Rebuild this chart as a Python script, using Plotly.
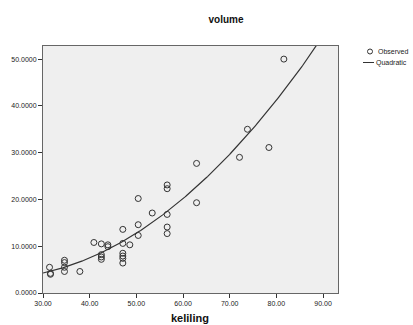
import numpy as np
import plotly.graph_objects as go

keliling = [31.4, 31.6, 31.6, 34.6, 34.6, 34.6, 34.6, 37.9, 40.9, 42.5, 42.5, 42.5, 42.5,
            43.9, 43.9, 47.1, 47.1, 47.1, 47.1, 47.1, 47.1, 48.6, 50.4, 50.4, 50.4, 53.4,
            56.6, 56.6, 56.6, 56.6, 56.6, 62.9, 62.9, 72.1, 73.8, 78.4, 81.6]
volume = [5.5, 4.2, 4.0, 7.0, 6.5, 5.5, 4.6, 4.6, 10.8, 10.5, 8.2, 7.7, 7.2,
          10.3, 9.9, 13.6, 10.6, 8.5, 7.9, 7.4, 6.4, 10.3, 20.2, 14.6, 12.3, 17.1,
          23.1, 22.3, 16.8, 14.1, 12.7, 27.7, 19.3, 29.0, 35.0, 31.1, 50.0]
x_ticks = [30, 40, 50, 60, 70, 80, 90]
y_ticks = [0, 10, 20, 30, 40, 50]
legend_labels = ["Observed", "Quadratic"]

W, H = 413, 325
ML, MR, MT, MB = 43, 75, 46, 32
PW, PH = W - ML - MR, H - MT - MB
FONT = "Liberation Sans, Arial, sans-serif"

coef = np.polyfit(keliling, volume, 2)
xs = np.linspace(30, 93.2, 300)
ys = np.polyval(coef, xs)

fig = go.Figure()
fig.add_trace(go.Scatter(
    x=keliling, y=volume, mode="markers", name=legend_labels[0],
    marker=dict(symbol="circle-open", size=6, color="#333333", line=dict(width=1, color="#333333")),
    showlegend=False,
))
fig.add_trace(go.Scatter(
    x=xs, y=ys, mode="lines", name=legend_labels[1],
    line=dict(color="#333333", width=1.2),
    showlegend=False,
))

axis_common = dict(
    showgrid=False, zeroline=False, showline=True, linecolor="#666666", linewidth=1,
    mirror=True, ticks="outside", ticklen=4, tickcolor="#333333", tickwidth=1,
    tickfont=dict(size=7, color="#222222", family=FONT),
)
fig.update_xaxes(range=[30, 93.2], tickvals=x_ticks, tickformat=".2f", **axis_common)
fig.update_yaxes(range=[0, 52.8], tickvals=y_ticks, tickformat=".4f", **axis_common)

def px(x):
    return (x - ML) / PW

def py(y):
    return 1 - (y - MT) / PH

annotations = [
    dict(text="<b>keliling</b>", x=px(190), y=py(318), xref="paper", yref="paper",
         xanchor="center", yanchor="middle", showarrow=False,
         font=dict(size=11, color="#111111", family=FONT)),
    dict(text=legend_labels[0], x=px(376), y=py(51.5), xref="paper", yref="paper",
         xanchor="left", yanchor="middle", showarrow=False,
         font=dict(size=7, color="#222222", family=FONT)),
    dict(text=legend_labels[1], x=px(374), y=py(62.5), xref="paper", yref="paper",
         xanchor="left", yanchor="middle", showarrow=False,
         font=dict(size=7, color="#222222", family=FONT)),
]
shapes = [
    dict(type="circle", xref="paper", yref="paper",
         x0=px(367.5), x1=px(372.5), y0=py(54), y1=py(49),
         line=dict(color="#333333", width=1)),
    dict(type="line", xref="paper", yref="paper",
         x0=px(363), x1=px(374), y0=py(62.5), y1=py(62.5),
         line=dict(color="#333333", width=1)),
]

fig.update_layout(
    template="none",
    width=W, height=H,
    margin=dict(l=ML, r=MR, t=MT, b=MB, autoexpand=False),
    paper_bgcolor="white", plot_bgcolor="#efefef",
    font=dict(family=FONT, color="#222222"),
    title=dict(text="<b>volume</b>", x=226 / W, xanchor="center", y=1 - 19 / H, yanchor="middle",
               font=dict(size=10, color="#111111", family=FONT)),
    annotations=annotations,
    shapes=shapes,
    showlegend=False,
    hovermode=False,
)

fig.write_html("out.html", config={"displayModeBar": False, "staticPlot": True},
               post_script="document.body.style.margin='0';document.body.style.overflow='hidden';")
